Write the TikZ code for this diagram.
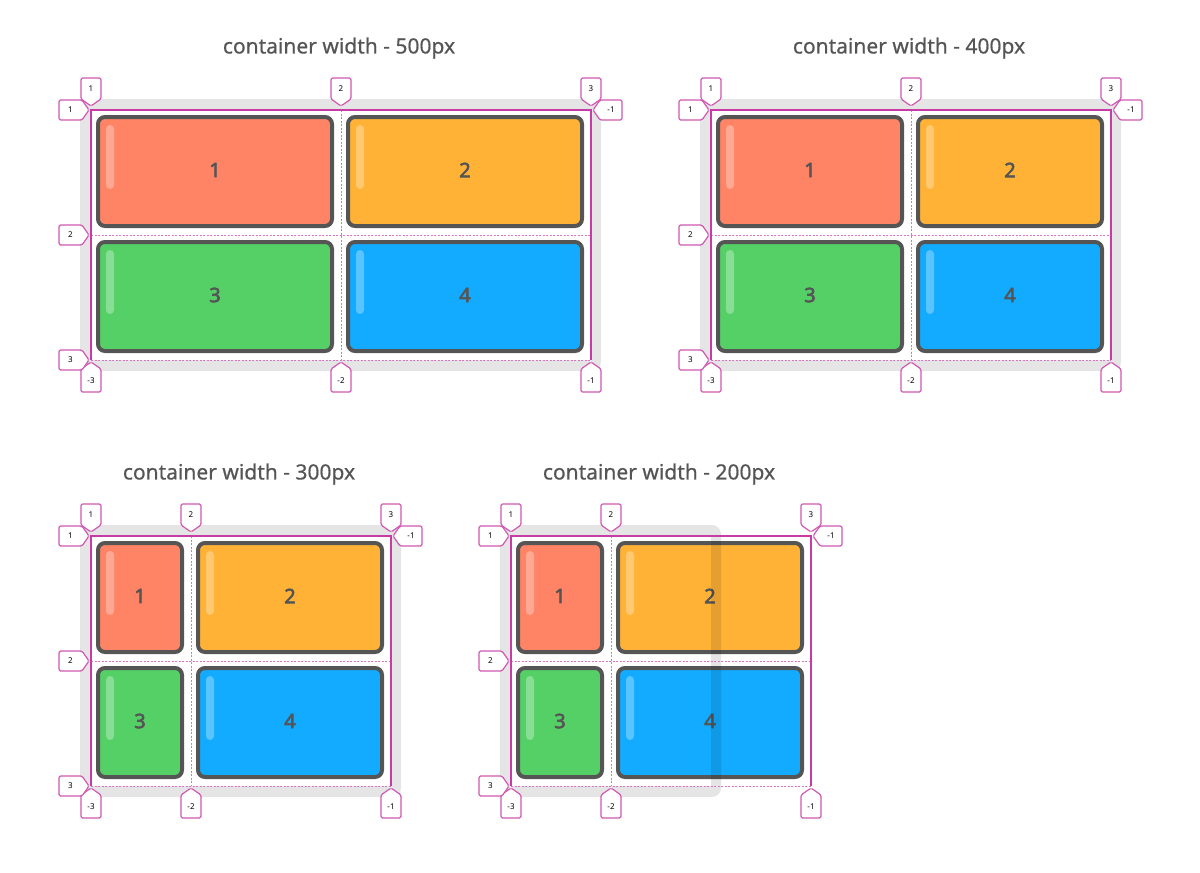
\documentclass[tikz,border=0pt]{standalone}
\usepackage{fontspec}
\setmainfont{Noto Sans}
\newfontfamily\titlefont{Noto Sans}[FakeBold=0.6]
\newfontfamily\heavyfont{Noto Sans}[FakeBold=3]

\definecolor{gridline}{HTML}{C83BA6}
\definecolor{cellred}{HTML}{FF8466}
\definecolor{cellorange}{HTML}{FFB236}
\definecolor{cellgreen}{HTML}{55D066}
\definecolor{cellblue}{HTML}{12ABFF}
\definecolor{edgegray}{HTML}{555555}

\tikzset{
  paneltitle/.style={text=edgegray, font=\titlefont\fontsize{21}{25}\selectfont},
  cellbox/.style={draw=edgegray, line width=4pt, rounded corners=7pt},
  shine/.style={fill=white, fill opacity=0.3, rounded corners=4pt},
  cellnum/.style={text=edgegray, font=\heavyfont\fontsize{20}{24}\selectfont},
  padframe/.style={fill=black, fill opacity=0.1, even odd rule},
  gridsolid/.style={draw=gridline, line width=1.1pt},
  griddash/.style={draw=gridline!70, line width=0.6pt, dash pattern=on 2pt off 1.5pt},
  markline/.style={draw=gridline!85, fill=white, line width=1.2pt, rounded corners=1.5pt, line join=round},
  marktext/.style={font=\fontsize{8}{9}\selectfont, inner sep=0pt}
}

\begin{document}
\begin{tikzpicture}[x=1pt,y=-1pt]

\useasboundingbox (0,0) rectangle (1200,873);

\foreach \px/\py/\ca/\cb/\w in {91/110/250/250/500, 711/110/200/200/400, 91/536/100/200/300, 511/536/100/200/200} {
\begin{scope}[shift={(\px,\py)}]
\pgfmathsetmacro\xb{\ca+\cb}

\node[paneltitle] (title\w) at ({\xb/2-2},-62) {container width - \w px};

\foreach \cx/\cw/\cy/\cc/\n in {0/\ca/0/cellred/1, \ca/\cb/0/cellorange/2, 0/\ca/125/cellgreen/3, \ca/\cb/125/cellblue/4} {
  \draw[cellbox, fill=\cc] ({\cx+7},{\cy+7}) rectangle ({\cx+\cw-9},{\cy+116});
  \fill[shine] ({\cx+15},{\cy+15}) rectangle ({\cx+23},{\cy+79});
  \node[cellnum] (cell\w-\n) at ({\cx+\cw/2-1},{\cy+60}) {\n};
}

\fill[padframe] [rounded corners=9pt] (-11,-11) rectangle ({\w+10},261) [sharp corners] (0,0) rectangle (\w,250);

\draw[griddash] (0,125) -- (\xb,125) (0,250) -- (\xb,250) (\ca,0) -- (\ca,250);
\draw[gridsolid] (0,250) -- (0,0) -- (\xb,0) -- (\xb,250);

\foreach \mx/\ma/\mb in {0/1/-3, \ca/2/-2, \xb/3/-1} {
  \draw[markline] ({\mx-10},-32) -- ({\mx+10},-32) -- ({\mx+10},-11) -- (\mx,-4) -- ({\mx-10},-11) -- cycle;
  \node[marktext] (top\w-\ma) at (\mx,-21.5) {\ma};
  \draw[markline] ({\mx-10},282) -- ({\mx+10},282) -- ({\mx+10},259) -- (\mx,252) -- ({\mx-10},259) -- cycle;
  \node[marktext] (bot\w-\ma) at (\mx,270.5) {\mb};
}
\foreach \my/\ma in {0/1, 125/2, 250/3} {
  \draw[markline] (-32,{\my-10}) -- (-9,{\my-10}) -- (-2,\my) -- (-9,{\my+10}) -- (-32,{\my+10}) -- cycle;
  \node[marktext] (row\w-\ma) at (-20.5,\my) {\ma};
}
\draw[markline] ({\xb+31},-10) -- ({\xb+9},-10) -- ({\xb+2},0) -- ({\xb+9},10) -- ({\xb+31},10) -- cycle;
\node[marktext] (end\w) at ({\xb+20},0) {-1};
\end{scope}
}

\end{tikzpicture}
\end{document}
